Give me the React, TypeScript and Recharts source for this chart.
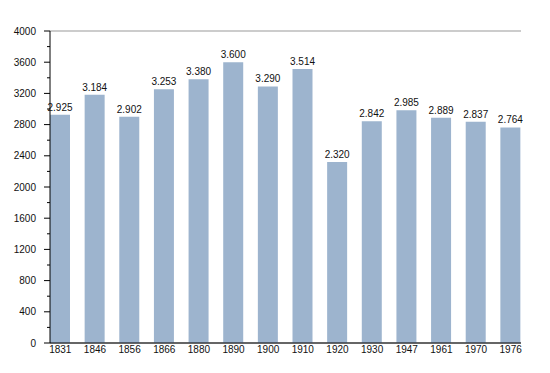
import { BarChart, Bar, XAxis, YAxis, CartesianGrid, LabelList } from "recharts";

const years = ["1831", "1846", "1856", "1866", "1880", "1890", "1900", "1910", "1920", "1930", "1947", "1961", "1970", "1976"];
const population = [2925, 3184, 2902, 3253, 3380, 3600, 3290, 3514, 2320, 2842, 2985, 2889, 2837, 2764];

const allTicks = [0, 200, 400, 600, 800, 1000, 1200, 1400, 1600, 1800, 2000, 2200, 2400, 2600, 2800, 3000, 3200, 3400, 3600, 3800, 4000];
const majorTicks = [0, 400, 800, 1200, 1600, 2000, 2400, 2800, 3200, 3600, 4000];
const minorTicks = [200, 600, 1000, 1400, 1800, 2200, 2600, 3000, 3400, 3800];

const data = years.map((year, i) => ({ year, value: population[i] }));

const FONT = "Liberation Sans, Arial, sans-serif";

const fmt = (v: number) => String(v).replace(/\B(?=(\d{3})+(?!\d))/g, ".");

function YTick(props: any) {
  const { x, y, payload } = props;
  const major = payload.value % 400 === 0;
  return (
    <g>
      <line x1={x - (major ? 6 : 3)} y1={y} x2={x} y2={y} stroke="#000" />
      {major && (
        <text x={x - 14} y={y} dy={3.5} textAnchor="end" fontSize={10} fontFamily={FONT} fill="#111">
          {payload.value}
        </text>
      )}
    </g>
  );
}

export default function App() {
  return (
    <div style={{ position: "absolute", left: 0, top: 0, width: 550, height: 373, background: "#fff" }}>
      <BarChart width={550} height={373} data={data} margin={{ top: 31, right: 29, bottom: 0, left: 0 }}>
        <YAxis yAxisId="minor" hide domain={[0, 4000]} ticks={minorTicks} />
        <YAxis yAxisId="major" hide domain={[0, 4000]} ticks={majorTicks} />
        <CartesianGrid yAxisId="minor" vertical={false} stroke="#dedede" />
        <CartesianGrid yAxisId="major" vertical={false} stroke="#a9a9a9" />
        <XAxis
          dataKey="year"
          height={30}
          padding={{ left: -7, right: -7 }}
          tickSize={0}
          tickMargin={3}
          tickLine={false}
          axisLine={{ stroke: "#000" }}
          tick={{ fontSize: 10, fontFamily: FONT, fill: "#111" }}
          interval={0}
        />
        <YAxis
          yAxisId="left"
          width={50}
          domain={[0, 4000]}
          ticks={allTicks}
          interval={0}
          tickSize={0}
          tickMargin={0}
          tickLine={false}
          axisLine={{ stroke: "#000" }}
          tick={<YTick />}
        />
        <Bar yAxisId="left" dataKey="value" fill="#9db4ce" barSize={20} isAnimationActive={false}>
          <LabelList
            dataKey="value"
            position="top"
            offset={4}
            formatter={(v: any) => fmt(Number(v))}
            style={{ fontSize: 10, fontFamily: FONT, fill: "#111" }}
          />
        </Bar>
      </BarChart>
    </div>
  );
}
